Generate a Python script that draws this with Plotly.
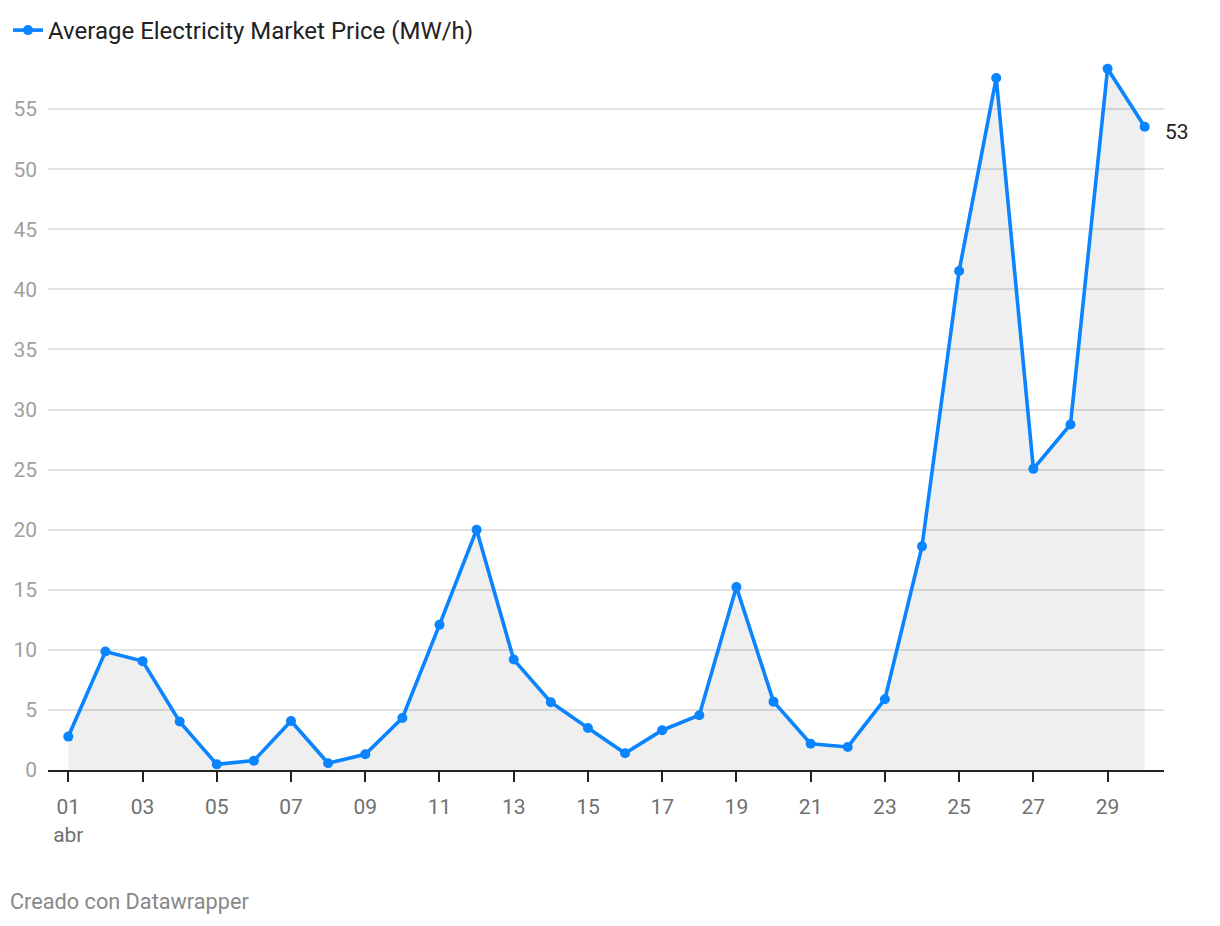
import plotly.graph_objects as go

days = list(range(1, 31))
prices = [2.78, 9.86, 9.06, 4.03, 0.47, 0.78, 4.08, 0.56, 1.31, 4.33,
          12.08, 20.0, 9.19, 5.64, 3.5, 1.39, 3.31, 4.56, 15.22, 5.69,
          2.19, 1.92, 5.89, 18.61, 41.53, 57.58, 25.06, 28.75, 58.36, 53.53]
tick_days = list(range(1, 31, 2))
tick_text = ["01<br>abr"] + ["%02d" % d for d in tick_days[1:]]
y_ticks = list(range(0, 60, 5))
series_name = "Average Electricity Market Price (MW/h)"

BLUE = "#0a84ff"
FONT = "Roboto"

fig = go.Figure()
fig.add_trace(go.Scatter(
    x=days, y=prices, fill="tozeroy", fillcolor="rgba(0,0,0,0.063)",
    mode="none", showlegend=False, hoverinfo="skip"))
fig.add_trace(go.Scatter(
    x=days, y=prices, mode="lines+markers", name=series_name,
    line=dict(color=BLUE, width=3.6),
    marker=dict(color=BLUE, size=10)))

fig.add_annotation(x=days[-1], y=prices[-1], text="%d" % int(prices[-1]),
                   xanchor="left", yanchor="middle", showarrow=False,
                   xshift=18, yshift=-5,
                   font=dict(family=FONT, size=21, color="#222"))

fig.add_annotation(xref="paper", yref="paper", x=-0.036, y=-0.183,
                   text="Creado con Datawrapper", showarrow=False,
                   xanchor="left", yanchor="middle",
                   font=dict(family=FONT, size=21.7, color="#888"))

fig.update_layout(
    width=1212, height=918,
    margin=dict(l=40, r=56, t=41, b=156, autoexpand=False),
    paper_bgcolor="white", plot_bgcolor="white",
    font=dict(family=FONT),
    showlegend=True,
    legend=dict(xref="container", yref="container", x=0.0, y=1.0,
                xanchor="left", yanchor="top",
                font=dict(family=FONT, size=24, color="#222"),
                bgcolor="rgba(0,0,0,0)", itemwidth=30),
    xaxis=dict(range=[0.453, 30.52], tickvals=tick_days, ticktext=tick_text,
               showgrid=False, zeroline=False,
               showline=True, linecolor="#222", linewidth=2,
               ticks="outside", ticklen=10, tickwidth=2, tickcolor="#222",
               ticklabelstandoff=7,
               tickfont=dict(family=FONT, size=21, color="#707070")),
    yaxis=dict(range=[0, 60], tickvals=y_ticks,
               showgrid=True, gridcolor="#e2e2e2", gridwidth=2,
               zeroline=False, showline=False, ticks="",
               ticklabelstandoff=10,
               tickfont=dict(family=FONT, size=21, color="#a0a0a0")),
)

fig.update_xaxes(fixedrange=True)
fig.update_yaxes(fixedrange=True)

fig.write_html("out.html")
